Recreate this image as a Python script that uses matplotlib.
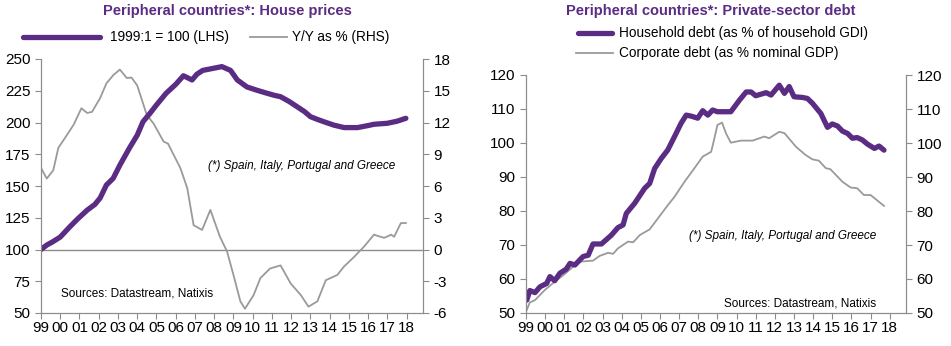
import matplotlib.pyplot as plt
from matplotlib.lines import Line2D

plt.rcParams['font.family'] = ['Liberation Sans', 'DejaVu Sans']
plt.rcParams['axes.unicode_minus'] = False

PURPLE = '#5b2c83'
GREY = '#9a9a9a'
AXC = '#8c8c8c'

# --- left chart: house prices (1999:1 = 100) and y/y change
hp_year = [1999.0, 1999.3, 1999.6, 2000.0, 2000.5, 2000.9, 2001.4, 2001.8, 2002.07,
           2002.4, 2002.75, 2003.1, 2003.6, 2004.0, 2004.3, 2004.65, 2005.0, 2005.5,
           2006.0, 2006.4, 2006.85, 2007.1, 2007.4, 2007.9, 2008.4, 2008.85, 2009.2,
           2009.7, 2010.2, 2010.75, 2011.1, 2011.45, 2011.9, 2012.3, 2012.7, 2013.0,
           2013.35, 2013.7, 2014.2, 2014.75, 2015.45, 2016.0, 2016.3, 2017.0, 2017.5,
           2017.96]
hp_index = [100, 103.5, 106, 109.8, 117.9, 124, 131, 135.5, 140.5,
            150.8, 156, 166.5, 180, 190, 200.6, 207, 213.8, 223,
            230, 236.8, 233.5, 238, 241, 242.5, 244, 241, 233.5,
            228, 225.5, 223, 221.5, 220.3, 216.5, 212.5, 208.5, 204.6,
            202.5, 200.6, 198, 196, 196, 197.6, 198.6, 199.4, 201,
            203.3]

yy_year = [1999.0, 1999.3, 1999.64, 1999.9, 2000.34, 2000.7, 2001.1, 2001.4, 2001.65,
           2002.07, 2002.4, 2002.77, 2003.1, 2003.46, 2003.7, 2004.0, 2004.5, 2004.85,
           2005.37, 2005.6, 2006.24, 2006.6, 2006.93, 2007.37, 2007.8, 2008.3, 2008.67,
           2009.0, 2009.36, 2009.6, 2010.05, 2010.4, 2010.9, 2011.45, 2011.97, 2012.5,
           2012.9, 2013.36, 2013.8, 2014.4, 2014.75, 2015.27, 2015.8, 2016.3, 2016.83,
           2017.2, 2017.35, 2017.7, 2017.96]
yy_pct = [7.7, 6.7, 7.5, 9.6, 10.8, 11.8, 13.35, 12.9, 13.0,
          14.3, 15.7, 16.5, 17.0, 16.2, 16.25, 15.5, 12.7, 11.9,
          10.2, 10.0, 7.7, 5.8, 2.3, 1.85, 3.74, 1.2, -0.2,
          -2.4, -4.9, -5.6, -4.3, -2.7, -1.8, -1.5, -3.2, -4.3,
          -5.4, -4.9, -2.9, -2.4, -1.6, -0.7, 0.3, 1.4, 1.1,
          1.4, 1.2, 2.5, 2.5]

# --- right chart: private-sector debt
hh_year = [1999.04, 1999.2, 1999.47, 1999.73, 2000.08, 2000.25, 2000.5, 2000.77, 2001.1,
           2001.3, 2001.55, 2001.98, 2002.25, 2002.5, 2002.94, 2003.46, 2003.8, 2004.07,
           2004.24, 2004.68, 2005.2, 2005.46, 2005.72, 2006.07, 2006.4, 2006.76, 2007.1,
           2007.37, 2007.63, 2007.97, 2008.23, 2008.5, 2008.75, 2009.0, 2009.7, 2010.15,
           2010.5, 2010.76, 2011.0, 2011.54, 2011.8, 2012.23, 2012.5, 2012.75, 2013.0,
           2013.44, 2013.7, 2013.96, 2014.4, 2014.75, 2015.0, 2015.27, 2015.53, 2015.8,
           2016.05, 2016.3, 2016.57, 2016.83, 2017.2, 2017.44, 2017.7]
hh_debt = [53.8, 56.6, 56.0, 57.7, 58.7, 60.7, 59.5, 61.7, 62.9,
           64.6, 64.1, 66.6, 67.0, 70.3, 70.3, 72.9, 75.1, 75.9,
           79.3, 82.3, 86.7, 88.1, 92.5, 95.5, 97.9, 101.9, 105.8,
           108.2, 107.9, 107.3, 109.5, 108.2, 109.7, 109.2, 109.2, 112.6,
           115.0, 115.0, 113.9, 114.8, 114.1, 117.0, 114.6, 116.6, 113.6,
           113.4, 113.1, 111.7, 108.7, 104.6, 105.6, 105.0, 103.5, 102.8,
           101.4, 101.6, 100.9, 99.7, 98.4, 99.1, 97.9]

co_year = [1999.04, 1999.2, 1999.47, 1999.99, 2000.5, 2001.03, 2001.46, 2001.8, 2002.5,
           2002.85, 2003.29, 2003.55, 2003.8, 2004.33, 2004.6, 2004.94, 2005.46, 2005.9,
           2006.42, 2006.76, 2007.28, 2007.8, 2008.23, 2008.67, 2008.8, 2009.0, 2009.24,
           2009.45, 2009.7, 2010.23, 2010.84, 2011.45, 2011.7, 2012.23, 2012.5, 2013.1,
           2013.6, 2013.96, 2014.3, 2014.66, 2014.9, 2015.53, 2015.96, 2016.3, 2016.65,
           2017.0, 2017.7]
co_debt = [50.9, 53.1, 53.8, 56.8, 59.2, 61.5, 63.6, 65.1, 65.4,
           66.8, 67.7, 67.4, 69.0, 71.0, 70.8, 72.9, 74.6, 77.9,
           81.8, 84.2, 88.6, 92.6, 96.0, 97.4, 100.4, 105.3, 106.0,
           102.8, 100.1, 100.7, 100.7, 101.9, 101.4, 103.3, 102.9, 98.9,
           96.5, 95.2, 94.8, 92.6, 92.3, 88.6, 86.9, 86.7, 84.7,
           84.7, 81.5]

years = list(range(1999, 2019))
year_labels = [str(y)[2:] for y in years]


def style_axes(ax, axr):
    for a in (ax, axr):
        a.spines['top'].set_visible(False)
        for s in ('left', 'right', 'bottom'):
            a.spines[s].set_color(AXC)
        a.tick_params(colors=AXC, labelcolor='black', labelsize=11, length=4)
    ax.set_xlim(1999, 2018.85)
    ax.set_xticks(years)
    ax.set_xticklabels(year_labels)
    ax.tick_params(axis='x', pad=2)


fig = plt.figure(figsize=(9.51, 3.46), dpi=100)
W, H = 951, 346


def fx(px):
    return px / W


def fy(py):
    return 1 - py / H


# ---------------- left panel
ax1 = fig.add_axes([fx(41), fy(313), fx(382), 254 / H])
ax1r = ax1.twinx()
ax1r.axhline(0, color=AXC, lw=1)
ax1r.plot(yy_year, yy_pct, color=GREY, lw=1.3)
ax1.plot(hp_year, hp_index, color=PURPLE, lw=3.8, solid_capstyle='round')
ax1.set_zorder(ax1r.get_zorder() + 1)
ax1.patch.set_visible(False)
ax1.set_ylim(50, 250)
ax1.set_yticks(range(50, 251, 25))
ax1r.set_ylim(-6, 18)
ax1r.set_yticks(range(-6, 19, 3))
style_axes(ax1, ax1r)

fig.text(fx(227), fy(11), 'Peripheral countries*: House prices', ha='center', va='center',
         fontsize=10.5, fontweight='bold', color=PURPLE)
fig.add_artist(Line2D([fx(23), fx(100)], [fy(37), fy(37)], color=PURPLE, lw=3.8,
                      solid_capstyle='round'))
fig.text(fx(110), fy(37), '1999:1 = 100 (LHS)', va='center', fontsize=9.8)
fig.add_artist(Line2D([fx(250), fx(287)], [fy(37), fy(37)], color=GREY, lw=1.3))
fig.text(fx(292), fy(37), 'Y/Y as % (RHS)', va='center', fontsize=9.8)
fig.text(fx(208), fy(166), '(*) Spain, Italy, Portugal and Greece', va='center',
         fontsize=8.5, style='italic')
fig.text(fx(61), fy(294), 'Sources: Datastream, Natixis', va='center', fontsize=8.5)

# ---------------- right panel
ax2 = fig.add_axes([fx(526), fy(313), fx(380), 238 / H])
ax2r = ax2.twinx()
ax2r.plot(co_year, co_debt, color=GREY, lw=1.3)
ax2.plot(hh_year, hh_debt, color=PURPLE, lw=3.8, solid_capstyle='round')
ax2.set_zorder(ax2r.get_zorder() + 1)
ax2.patch.set_visible(False)
for a in (ax2, ax2r):
    a.set_ylim(50, 120)
    a.set_yticks(range(50, 121, 10))
style_axes(ax2, ax2r)

fig.text(fx(711), fy(11), 'Peripheral countries*: Private-sector debt', ha='center',
         va='center', fontsize=10.5, fontweight='bold', color=PURPLE)
fig.add_artist(Line2D([fx(578), fx(612)], [fy(33), fy(33)], color=PURPLE, lw=3.8,
                      solid_capstyle='round'))
fig.text(fx(619), fy(33), 'Household debt (as % of household GDI)', va='center', fontsize=9.8)
fig.add_artist(Line2D([fx(576), fx(613)], [fy(53), fy(53)], color=GREY, lw=1.3))
fig.text(fx(619), fy(53), 'Corporate debt (as % nominal GDP)', va='center', fontsize=9.8)
fig.text(fx(876), fy(236), '(*) Spain, Italy, Portugal and Greece', ha='right', va='center',
         fontsize=8.5, style='italic')
fig.text(fx(876), fy(303), 'Sources: Datastream, Natixis', ha='right', va='center',
         fontsize=8.5)

fig.savefig('out.png', dpi=100)
